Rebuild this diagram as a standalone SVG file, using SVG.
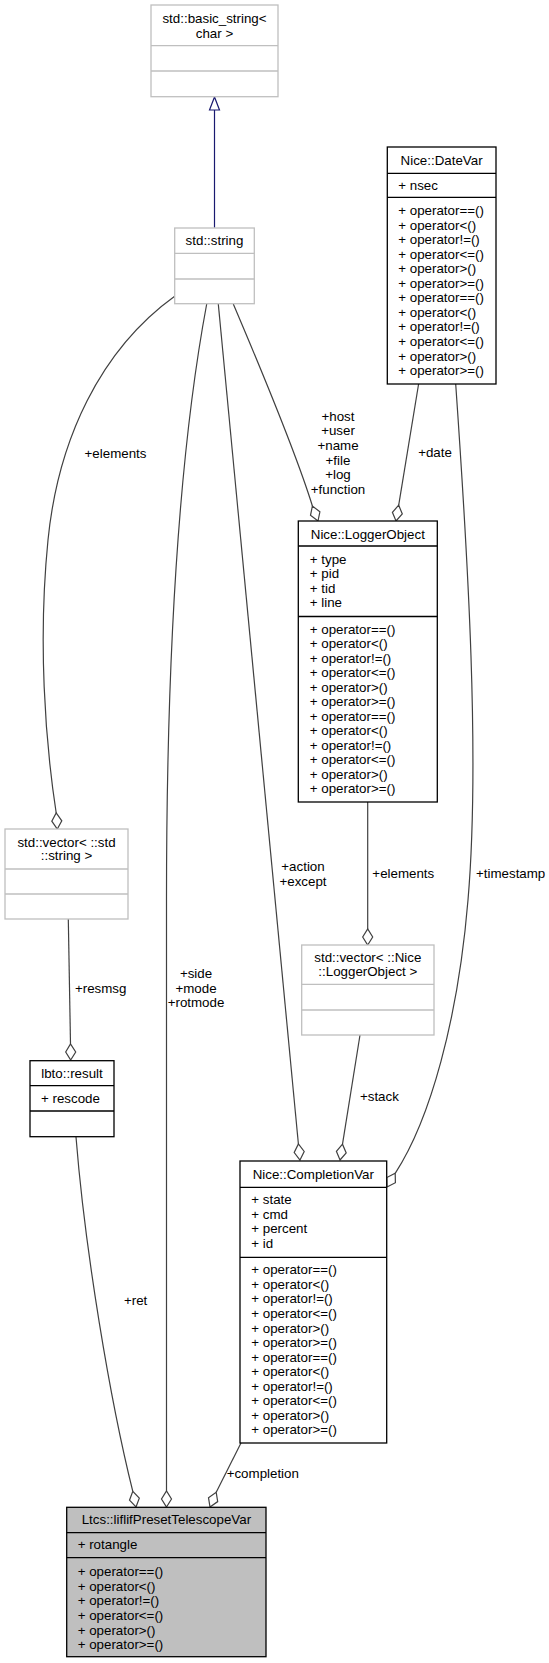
<svg xmlns="http://www.w3.org/2000/svg" width="549" height="1663" viewBox="0 0 549 1663">
<style>
text{font-family:"Liberation Sans",Arial,sans-serif;font-size:13.33px;fill:#000}
.m{text-anchor:middle}
.g{fill:#fff;stroke:#bfbfbf;stroke-width:1.3}
.b{fill:#fff;stroke:#000;stroke-width:1.3}
.gl{stroke:#bfbfbf;stroke-width:1.3}
.bl{stroke:#000;stroke-width:1.3}
.e{fill:none;stroke:#404040;stroke-width:1.2}
.d{fill:#fff;stroke:#404040;stroke-width:1.2}
</style>
<rect width="549" height="1663" fill="#fff"/>
<g id="connectors">
  <path d="M214.5,227.7 L214.5,110" fill="none" stroke="#191970" stroke-width="1.2"/>
  <polygon points="214.5,97 209.5,110 219.5,110" fill="#fff" stroke="#191970" stroke-width="1.2"/>
  <path class="e" d="M175,296 C100,350 58,440 48,540 C38,640 45,740 56.2,813"/>
  <polygon class="d" points="57.3,829 61.8,820.8 56.2,813 51.8,821.2"/>
  <path class="e" d="M206.7,304 C185,420 166.5,600 166.5,900 L166.5,1491"/>
  <path class="e" d="M218.3,304 L298.4,1144"/>
  <polygon class="d" points="300,1160 304.2,1151.5 298.4,1144 294.2,1152.5"/>
  <path class="e" d="M233.3,304 C255,355 295,450 312.4,506"/>
  <polygon class="d" points="318,521 319.9,511.8 312.4,506 310.5,515.3"/>
  <path class="e" d="M418.6,384 L398.7,505.2"/>
  <polygon class="d" points="396,521 402.3,514 398.7,505.2 392.4,512.3"/>
  <path class="e" d="M455.7,384 C468,560 480,760 468,900 C458,1020 430,1120 395.2,1173.3"/>
  <polygon class="d" points="387,1187 395.4,1182.7 395.2,1173.3 386.8,1177.5"/>
  <path class="e" d="M367.7,802 L367.7,929"/>
  <polygon class="d" points="367.7,945 372.7,937 367.7,929 362.7,937"/>
  <path class="e" d="M360,1035 L342.5,1144.2"/>
  <polygon class="d" points="340,1160 346.2,1152.9 342.5,1144.2 336.4,1151.3"/>
  <path class="e" d="M68.3,919 L70.5,1044"/>
  <polygon class="d" points="70.7,1060 75.7,1052 70.5,1044 65.7,1052"/>
  <path class="e" d="M76,1137 C85,1250 110,1400 132.8,1491.3"/>
  <polygon class="d" points="136,1507 139.3,1498.2 132.8,1491.3 129.5,1500.2"/>
  <polygon class="d" points="166.5,1507 171.5,1499 166.5,1491 161.5,1499"/>
  <path class="e" d="M241,1443 L216.2,1492.3"/>
  <polygon class="d" points="210,1507 217.7,1501.6 216.2,1492.3 208.5,1497.7"/>
  <text class="m" x="115.5" y="457.7">+elements</text>
  <text class="m" x="338" y="420.7">+host</text>
  <text class="m" x="338" y="435.3">+user</text>
  <text class="m" x="338" y="450">+name</text>
  <text class="m" x="338" y="464.6">+file</text>
  <text class="m" x="338" y="479.2">+log</text>
  <text class="m" x="338" y="493.8">+function</text>
  <text class="m" x="435" y="457">+date</text>
  <text class="m" x="303" y="870.7">+action</text>
  <text class="m" x="303" y="886">+except</text>
  <text class="m" x="403.3" y="877.7">+elements</text>
  <text x="476" y="877.7">+timestamp</text>
  <text class="m" x="196" y="978">+side</text>
  <text class="m" x="196" y="992.6">+mode</text>
  <text class="m" x="196" y="1007.2">+rotmode</text>
  <text class="m" x="100.7" y="992.8">+resmsg</text>
  <text class="m" x="379.4" y="1101">+stack</text>
  <text class="m" x="135.6" y="1305.4">+ret</text>
  <text class="m" x="262.8" y="1478">+completion</text>
</g>
<g id="basic_string">
  <rect class="g" x="151" y="5" width="127" height="91.7"/>
  <line class="gl" x1="151" y1="45.7" x2="278" y2="45.7"/>
  <line class="gl" x1="151" y1="71" x2="278" y2="71"/>
  <text class="m" x="214.5" y="23.3">std::basic_string&lt;</text>
  <text class="m" x="214.5" y="38.3">char &gt;</text>
</g>
<g id="std_string">
  <rect class="g" x="174.7" y="228" width="79.6" height="75.7"/>
  <line class="gl" x1="174.7" y1="253.3" x2="254.3" y2="253.3"/>
  <line class="gl" x1="174.7" y1="279" x2="254.3" y2="279"/>
  <text class="m" x="214.5" y="245">std::string</text>
</g>
<g id="DateVar">
  <rect class="b" x="387.3" y="147" width="108.7" height="237"/>
  <line class="bl" x1="387.3" y1="173.3" x2="496" y2="173.3"/>
  <line class="bl" x1="387.3" y1="197.3" x2="496" y2="197.3"/>
  <text class="m" x="441.6" y="165">Nice::DateVar</text>
  <text x="398.3" y="190">+ nsec</text>
  <text x="398.3" y="215">+ operator==()</text>
  <text x="398.3" y="229.6">+ operator&lt;()</text>
  <text x="398.3" y="244.1">+ operator!=()</text>
  <text x="398.3" y="258.7">+ operator&lt;=()</text>
  <text x="398.3" y="273.2">+ operator&gt;()</text>
  <text x="398.3" y="287.8">+ operator&gt;=()</text>
  <text x="398.3" y="302.3">+ operator==()</text>
  <text x="398.3" y="316.9">+ operator&lt;()</text>
  <text x="398.3" y="331.4">+ operator!=()</text>
  <text x="398.3" y="346">+ operator&lt;=()</text>
  <text x="398.3" y="360.5">+ operator&gt;()</text>
  <text x="398.3" y="375.1">+ operator&gt;=()</text>
</g>
<g id="LoggerObject">
  <rect class="b" x="298.3" y="521" width="139" height="281"/>
  <line class="bl" x1="298.3" y1="546" x2="437.3" y2="546"/>
  <line class="bl" x1="298.3" y1="616.5" x2="437.3" y2="616.5"/>
  <text class="m" x="367.8" y="539">Nice::LoggerObject</text>
  <text x="309.8" y="563.5">+ type</text>
  <text x="309.8" y="578">+ pid</text>
  <text x="309.8" y="592.5">+ tid</text>
  <text x="309.8" y="607">+ line</text>
  <text x="309.8" y="633.5">+ operator==()</text>
  <text x="309.8" y="648">+ operator&lt;()</text>
  <text x="309.8" y="662.5">+ operator!=()</text>
  <text x="309.8" y="677">+ operator&lt;=()</text>
  <text x="309.8" y="691.5">+ operator&gt;()</text>
  <text x="309.8" y="706">+ operator&gt;=()</text>
  <text x="309.8" y="720.5">+ operator==()</text>
  <text x="309.8" y="735">+ operator&lt;()</text>
  <text x="309.8" y="749.5">+ operator!=()</text>
  <text x="309.8" y="764">+ operator&lt;=()</text>
  <text x="309.8" y="778.5">+ operator&gt;()</text>
  <text x="309.8" y="793">+ operator&gt;=()</text>
</g>
<g id="vector_string">
  <rect class="g" x="5" y="829" width="123" height="90"/>
  <line class="gl" x1="5" y1="869" x2="128" y2="869"/>
  <line class="gl" x1="5" y1="894" x2="128" y2="894"/>
  <text class="m" x="66.5" y="846.7">std::vector&lt; ::std</text>
  <text class="m" x="66.5" y="860">::string &gt;</text>
</g>
<g id="vector_LoggerObject">
  <rect class="g" x="301.7" y="945" width="132.3" height="90"/>
  <line class="gl" x1="301.7" y1="984.3" x2="434" y2="984.3"/>
  <line class="gl" x1="301.7" y1="1010" x2="434" y2="1010"/>
  <text class="m" x="367.8" y="961.7">std::vector&lt; ::Nice</text>
  <text class="m" x="367.8" y="976">::LoggerObject &gt;</text>
</g>
<g id="lbto_result">
  <rect class="b" x="30" y="1060.7" width="84" height="76"/>
  <line class="bl" x1="30" y1="1085.7" x2="114" y2="1085.7"/>
  <line class="bl" x1="30" y1="1111" x2="114" y2="1111"/>
  <text class="m" x="72" y="1077.7">lbto::result</text>
  <text x="41" y="1103.3">+ rescode</text>
</g>
<g id="CompletionVar">
  <rect class="b" x="240" y="1161" width="146.7" height="282"/>
  <line class="bl" x1="240" y1="1187.3" x2="386.7" y2="1187.3"/>
  <line class="bl" x1="240" y1="1257.3" x2="386.7" y2="1257.3"/>
  <text class="m" x="313.3" y="1179">Nice::CompletionVar</text>
  <text x="251.3" y="1204.3">+ state</text>
  <text x="251.3" y="1218.8">+ cmd</text>
  <text x="251.3" y="1233.3">+ percent</text>
  <text x="251.3" y="1247.8">+ id</text>
  <text x="251.3" y="1274.3">+ operator==()</text>
  <text x="251.3" y="1288.8">+ operator&lt;()</text>
  <text x="251.3" y="1303.4">+ operator!=()</text>
  <text x="251.3" y="1317.9">+ operator&lt;=()</text>
  <text x="251.3" y="1332.5">+ operator&gt;()</text>
  <text x="251.3" y="1347">+ operator&gt;=()</text>
  <text x="251.3" y="1361.6">+ operator==()</text>
  <text x="251.3" y="1376.1">+ operator&lt;()</text>
  <text x="251.3" y="1390.7">+ operator!=()</text>
  <text x="251.3" y="1405.2">+ operator&lt;=()</text>
  <text x="251.3" y="1419.8">+ operator&gt;()</text>
  <text x="251.3" y="1434.3">+ operator&gt;=()</text>
</g>
<g id="Ltcs">
  <rect x="66.7" y="1507.3" width="199.3" height="149.4" fill="#bfbfbf" stroke="#000" stroke-width="1.3"/>
  <line class="bl" x1="66.7" y1="1532.7" x2="266" y2="1532.7"/>
  <line class="bl" x1="66.7" y1="1557.7" x2="266" y2="1557.7"/>
  <text class="m" x="166.4" y="1524.3">Ltcs::liflifPresetTelescopeVar</text>
  <text x="77.7" y="1549.3">+ rotangle</text>
  <text x="77.7" y="1576">+ operator==()</text>
  <text x="77.7" y="1590.7">+ operator&lt;()</text>
  <text x="77.7" y="1605.3">+ operator!=()</text>
  <text x="77.7" y="1620">+ operator&lt;=()</text>
  <text x="77.7" y="1634.7">+ operator&gt;()</text>
  <text x="77.7" y="1649.3">+ operator&gt;=()</text>
</g>
</svg>
